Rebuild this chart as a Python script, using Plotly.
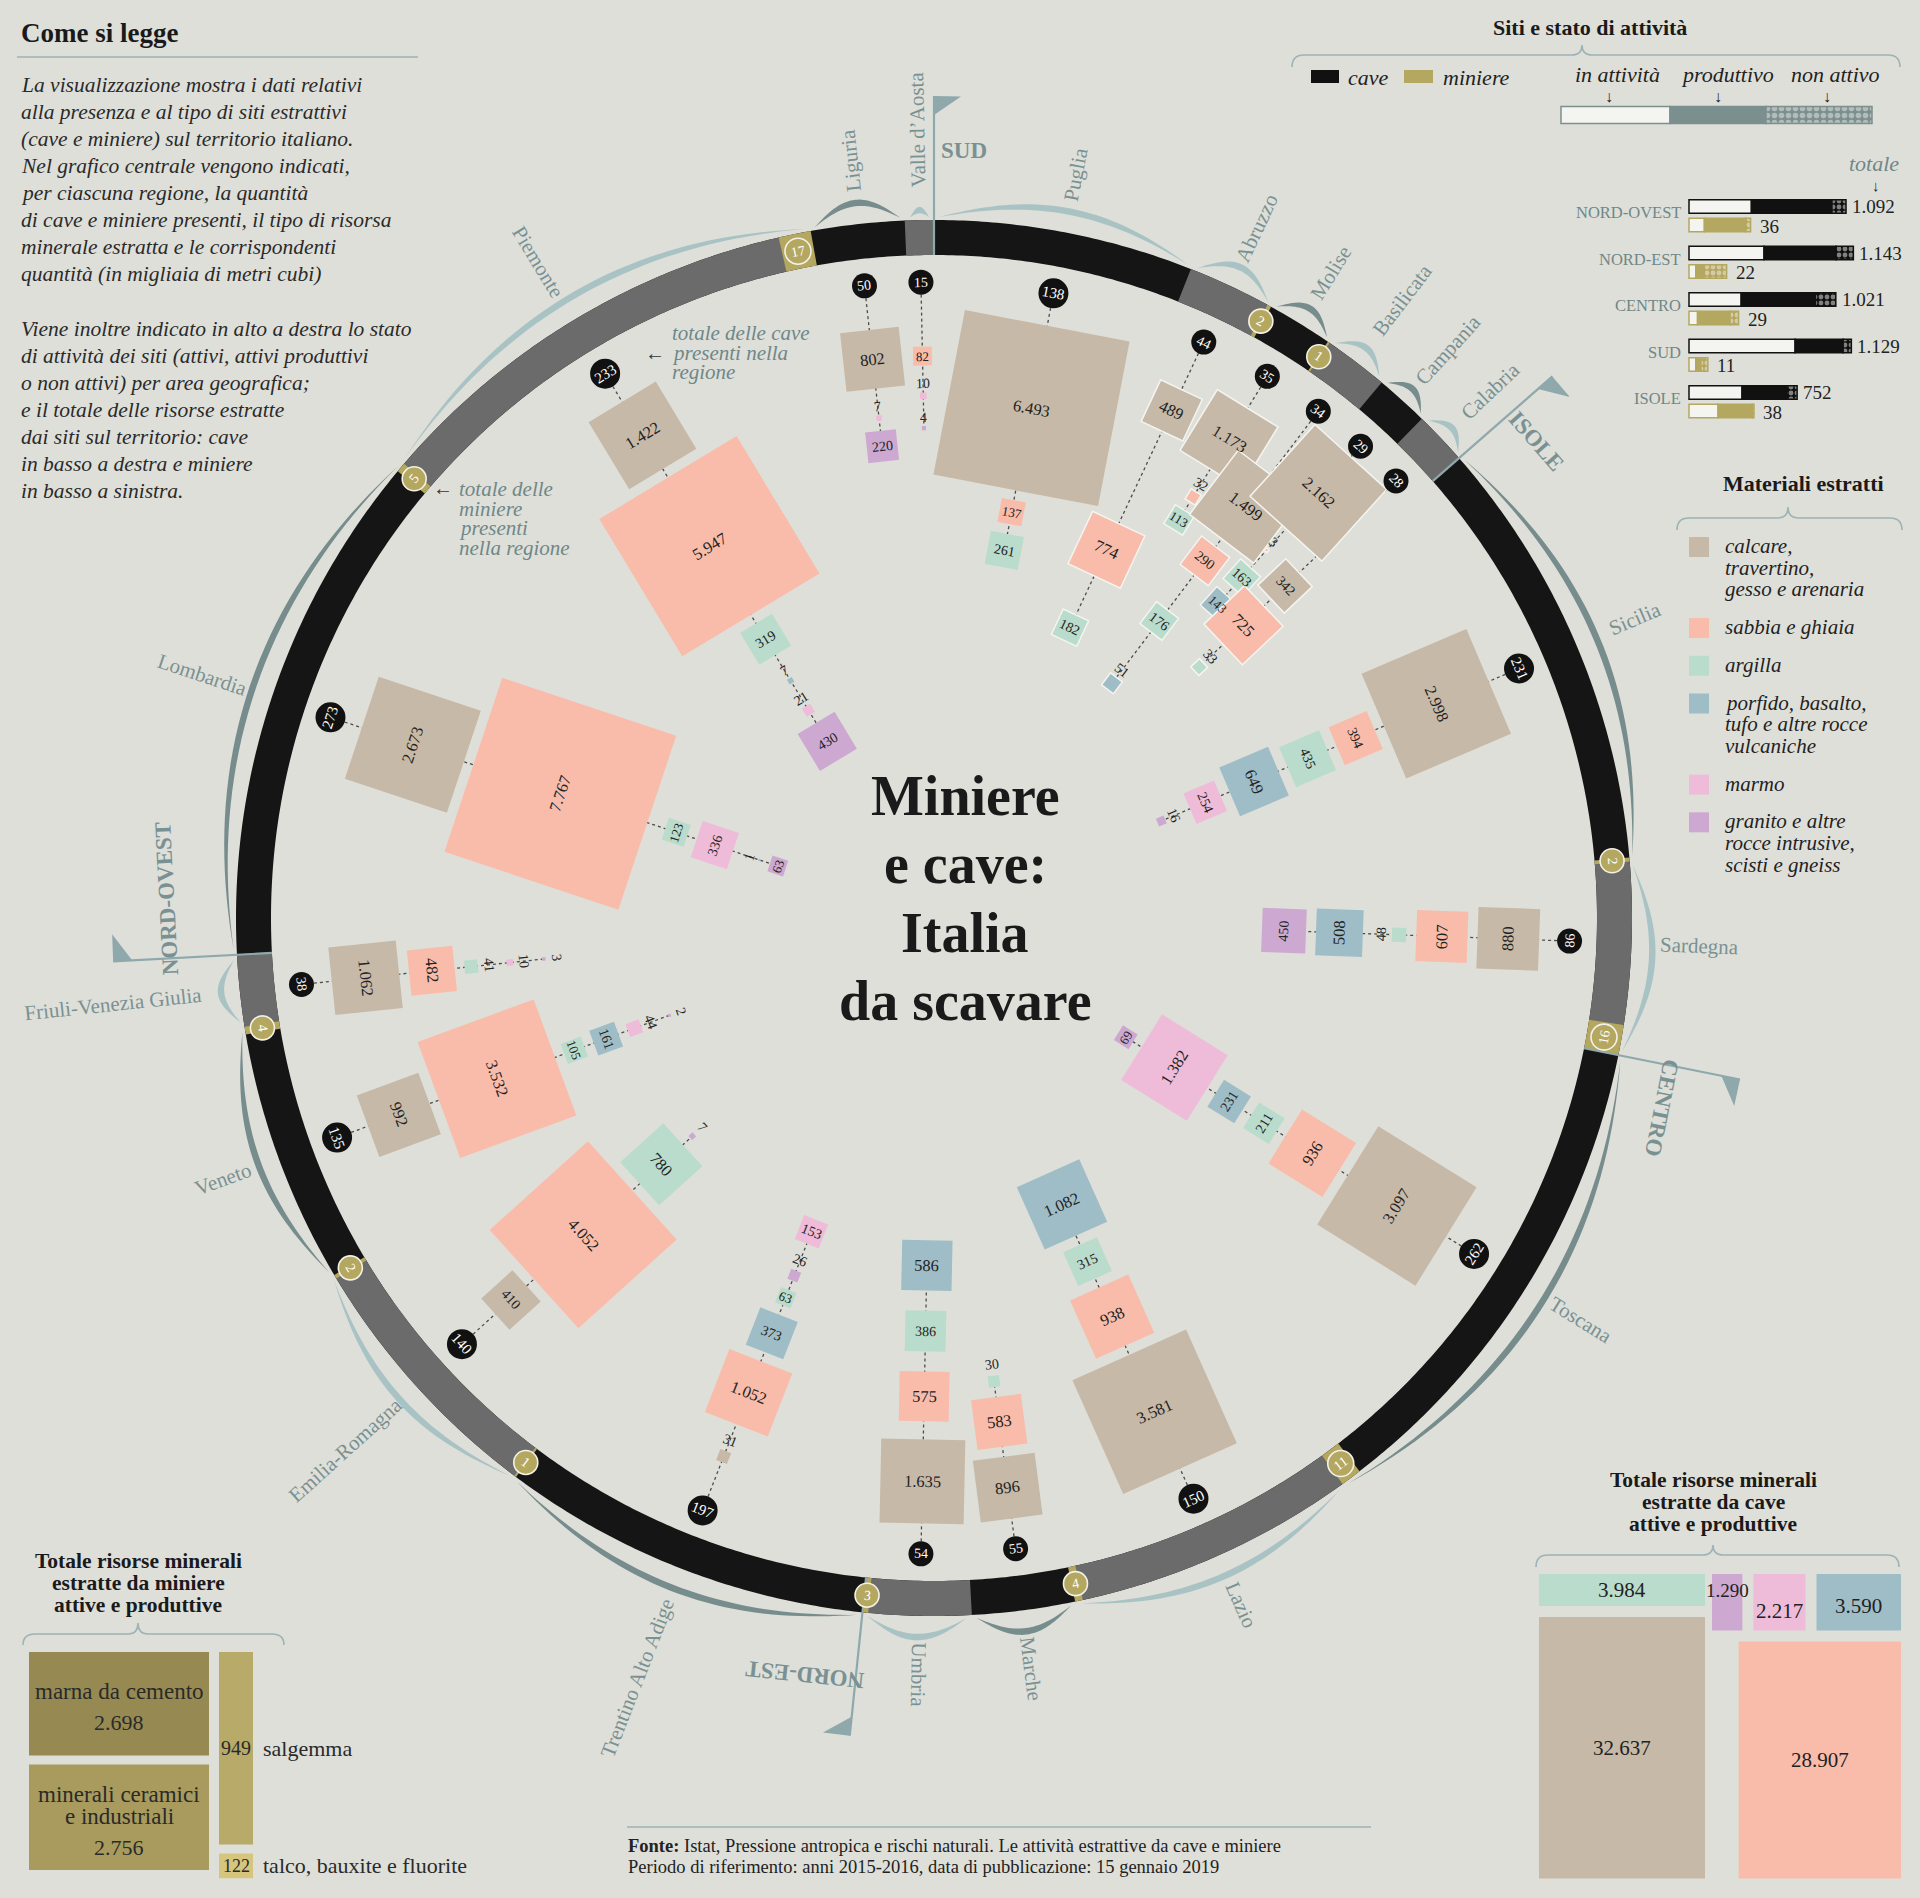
import math
import plotly.graph_objects as go

W, H = 1920, 1898

# ------------------------------------------------------------------ data
regions = ["Puglia", "Abruzzo", "Molise", "Basilicata", "Campania", "Calabria",
           "Sicilia", "Sardegna",
           "Toscana", "Lazio", "Marche", "Umbria",
           "Trentino Alto Adige", "Emilia-Romagna", "Veneto", "Friuli-Venezia Giulia",
           "Lombardia", "Piemonte", "Liguria", "Valle d’Aosta"]
region_area = ["SUD"] * 6 + ["ISOLE"] * 2 + ["CENTRO"] * 4 + ["NORD-EST"] * 4 + ["NORD-OVEST"] * 4
cave_sites = [138, 44, 35, 34, 29, 28, 231, 86, 262, 150, 55, 54, 197, 140, 135, 38, 273, 233, 50, 15]
mine_sites = [0, 2, 1, 0, 0, 0, 2, 16, 11, 4, 0, 3, 1, 2, 4, 0, 5, 17, 0, 0]

calcare = [6493, 489, 1173, 1499, 2162, 342, 2998, 880, 3097, 3581, 896, 1635, 31, 410, 992, 1062, 2673, 1422, 802, 0]
sabbia = [137, 774, 32, 290, 3, 725, 394, 607, 936, 938, 583, 575, 1052, 4052, 3532, 482, 7767, 5947, 0, 82]
argilla = [261, 182, 113, 176, 163, 33, 435, 48, 211, 315, 30, 386, 63, 780, 105, 41, 123, 319, 0, 0]
porfido = [0, 0, 0, 51, 143, 0, 649, 508, 231, 1082, 0, 586, 373, 0, 161, 0, 1, 7, 0, 0]
marmo = [0, 0, 0, 0, 0, 0, 254, 0, 1382, 0, 0, 0, 153, 0, 44, 10, 336, 21, 7, 10]
granito = [0, 0, 0, 0, 0, 0, 16, 450, 69, 0, 0, 0, 26, 7, 2, 3, 63, 430, 220, 4]
material_order = {"Trentino Alto Adige": [0, 1, 3, 2, 5, 4], "Lombardia": [0, 1, 2, 4, 3, 5]}

legend_lines = [["calcare,", "travertino,", "gesso e arenaria"], ["sabbia e ghiaia"], ["argilla"],
                ["porfido, basalto,", "tufo e altre rocce", "vulcaniche"], ["marmo"],
                ["granito e altre", "rocce intrusive,", "scisti e gneiss"]]

areas = ["NORD-OVEST", "NORD-EST", "CENTRO", "SUD", "ISOLE"]
cave_active = [434, 522, 363, 738, 369]
cave_productive = [560, 500, 516, 334, 310]
cave_inactive = [98, 121, 142, 57, 73]
cave_total = [1092, 1143, 1021, 1129, 752]
mine_active = [9, 4, 5, 4, 17]
mine_productive = [24, 5, 19, 3, 20]
mine_inactive = [3, 13, 5, 4, 1]
mine_total = [36, 22, 29, 11, 38]

quarry_totals = [32637, 28907, 3984, 3590, 2217, 1290]   # calcare, sabbia, argilla, porfido, marmo, granito
mine_products = [["marna da cemento"], ["minerali ceramici", "e industriali"], ["salgemma"], ["talco, bauxite e fluorite"]]
mine_product_totals = [2698, 2756, 949, 122]

# ------------------------------------------------------------------ style
FONT = "Liberation Serif"
BG = "#dedfd9"
MAT_COLORS = ["#c7b9a7", "#f9bcaa", "#badccc", "#9ebdc7", "#eebcd9", "#cda9d2"]
RING_DARK, RING_GRAY, GOLD = "#151515", "#6b6b6b", "#b4a760"
TEAL = "#6f8788"
LABEL = "#7a9192"
ARC_LIGHT, ARC_DARK = "#a9c3c5", "#778c8c"
FLAG = "#8ea8ac"
INK = "#222222"
arc_dark_style = [0, 0, 1, 0, 1, 0, 1, 0, 1, 0, 1, 0, 1, 0, 1, 0, 1, 0, 1, 0]

CX, CY = 934.0, 918.0
R_IN, R_OUT = 663.0, 698.0
R_CIRC = 636.0
K = 2.08          # px per sqrt(thousand m3)
CIRC_GAP, GAP, SMALL = 18.0, 10.0, 55
extra = {("Abruzzo", 0): 22, ("Abruzzo", 1): 92, ("Abruzzo", 2): 33, ("Molise", 0): 7,
         ("Basilicata", 0): 49, ("Basilicata", 2): 34, ("Basilicata", 3): 30,
         ("Campania", 0): -16, ("Campania", 2): 12, ("Calabria", 0): 103,
         ("Valle d’Aosta", 1): 34, ("Liguria", 0): 14,
         ("Umbria", 1): 8, ("Umbria", 2): 10, ("Umbria", 3): 10,
         ("Trentino Alto Adige", 0): 19, ("Emilia-Romagna", 0): 12, ("Lombardia", 2): 9}

shapes, annots = [], []


def fmt(v):
    return f"{v:,}".replace(",", ".")


def P(r, a):
    t = math.radians(a)
    return (CX + r * math.sin(t), CY - r * math.cos(t))


def pstr(pts):
    return "M " + " L ".join(f"{x:.2f},{y:.2f}" for x, y in pts)


def poly(pts, fill, lc=None, lw=0):
    shapes.append(dict(type="path", path=pstr(pts) + " Z", fillcolor=fill,
                       line=dict(color=lc or fill, width=lw), layer="above"))


def pline(pts, color, width=1.0, dash="solid"):
    shapes.append(dict(type="path", path=pstr(pts), line=dict(color=color, width=width, dash=dash), layer="above"))


def rect(x0, y0, x1, y1, fill, lc=None, lw=0):
    shapes.append(dict(type="rect", x0=x0, y0=y0, x1=x1, y1=y1, fillcolor=fill,
                       line=dict(color=lc or fill, width=lw), layer="above"))


def circ(x, y, r, fill, lc=None, lw=0):
    shapes.append(dict(type="circle", x0=x - r, x1=x + r, y0=y - r, y1=y + r, fillcolor=fill,
                       line=dict(color=lc or fill, width=lw), layer="above"))


def txt(x, y, s, size=14, color=INK, angle=0, weight="normal", style="normal", xa="center", ya="middle"):
    a = ((angle + 180) % 360) - 180
    annots.append(dict(x=x, y=y, xref="x", yref="y", text=s, showarrow=False, textangle=a,
                       font=dict(family=FONT, size=size, color=color, weight=weight, style=style),
                       xanchor=xa, yanchor=ya, borderpad=0))


def sector(r0, r1, a0, a1, fill):
    n = max(2, int(abs(a1 - a0) / 0.4) + 2)
    outer = [P(r1, a0 + (a1 - a0) * k / (n - 1)) for k in range(n)]
    inner = [P(r0, a1 - (a1 - a0) * k / (n - 1)) for k in range(n)]
    poly(outer + inner, fill)


def brace(x0, x1, xp, yt, ym, yb, color="#9db3b6"):
    d = (f"M {x0},{yb} Q {x0},{ym} {x0+12},{ym} L {xp-10},{ym} Q {xp},{ym} {xp},{yt} "
         f"Q {xp},{ym} {xp+10},{ym} L {x1-12},{ym} Q {x1},{ym} {x1},{yb}")
    shapes.append(dict(type="path", path=d, line=dict(color=color, width=1.6), layer="above"))


def norm_rot(th):
    t = ((th + 180) % 360) - 180
    if -90 < t <= 90:
        return t, True
    return (t - 180 if t > 90 else t + 180), False


# ------------------------------------------------------------------ ring geometry
dpu = 360.0 / (sum(cave_sites) + sum(mine_sites))
seg, cur = [], 0.0
for i in range(len(regions)):
    a0 = cur
    a1 = a0 + cave_sites[i] * dpu
    a2 = a1 + mine_sites[i] * dpu
    seg.append((a0, a1, a2))
    cur = a2

# crescents outside the ring
for i in range(len(regions)):
    a0, a1, a2 = seg[i]
    b0, b1 = a0 + 0.4, a2 - 0.4
    L = math.radians(b1 - b0) * R_OUT
    h1 = min(15.0, 0.2 * L)
    h2 = h1 + 6.5
    n = 40
    out = [P(R_OUT + 3 + h2 * math.sin(math.pi * k / n), b0 + (b1 - b0) * k / n) for k in range(n + 1)]
    inn = [P(R_OUT + 3 + h1 * math.sin(math.pi * k / n), b0 + (b1 - b0) * k / n) for k in range(n, -1, -1)]
    poly(out + inn, ARC_DARK if arc_dark_style[i] else ARC_LIGHT)

# ring band
sector(R_IN, R_OUT, 0, 360, RING_DARK)
for i in range(len(regions)):
    a0, a1, a2 = seg[i]
    if i % 2 == 1:
        sector(R_IN, R_OUT, a0 - 0.05, a1 + 0.05, RING_GRAY)
for i in range(len(regions)):
    a0, a1, a2 = seg[i]
    if mine_sites[i] > 0:
        sector(R_IN, R_OUT, a1, a2 + 0.02, GOLD)

# flags
for ar in ["SUD", "ISOLE", "CENTRO", "NORD-EST", "NORD-OVEST"]:
    idx = region_area.index(ar)
    th = seg[idx][0]
    pline([P(R_IN, th), P(822, th)], FLAG, 2.2)
    poly([P(822, th), P(822, th + math.degrees(27 / 822)), P(803, th)], FLAG)
    w = 0.36 * 23 * len(ar)
    off = 18 + w / 2
    rt = 768 if ar != "CENTRO" else 752
    tx, ty = P(rt, th + math.degrees(off / rt))
    txt(tx, ty, ar, size=23, color="#7a9193", angle=th, weight="bold")

# gold mine markers
for i in range(len(regions)):
    a0, a1, a2 = seg[i]
    if mine_sites[i] > 0:
        am = (a1 + a2) / 2
        x, y = P((R_IN + R_OUT) / 2, am)
        rr = 13 if mine_sites[i] >= 10 else 12
        circ(x, y, rr, GOLD, "#f3f1e6", 1.6)
        rot, _ = norm_rot(am)
        txt(x, y, str(mine_sites[i]), size=14, color="white", angle=rot)

# region labels
for i, name in enumerate(regions):
    a0, a1, a2 = seg[i]
    th = (a0 + a1) / 2
    if th < 185:
        rot = th - 90
    elif th < 345:
        rot = th - 270
    else:
        rot = th - 450
    w = 0.43 * 21 * len(name)
    x, y = P(730 + w / 2, th)
    txt(x, y, name, size=21, color=LABEL, angle=rot)

# clusters of squares
values = [calcare, sabbia, argilla, porfido, marmo, granito]
layout_items = []
for i, name in enumerate(regions):
    a0, a1, a2 = seg[i]
    th = (a0 + a1) / 2
    rot, up_out = norm_rot(th)
    rc = 15.0 if cave_sites[i] >= 100 else 12.5
    r = R_CIRC - rc - CIRC_GAP
    items = []
    for m in material_order.get(name, range(6)):
        v = values[m][i]
        if v <= 0:
            continue
        r -= extra.get((name, m), 0)
        s = K * math.sqrt(v)
        lab = None
        if v < SMALL and up_out:
            lab = r - 8
            r -= 17
            rs = r - s / 2
            r -= s
        elif v < SMALL:
            rs = r - s / 2
            r -= s + 3
            lab = r - 8
            r -= 16
        else:
            rs = r - s / 2
            r -= s
        r -= GAP
        items.append((m, v, s, rs, lab))
    layout_items.append((th, rot, rc, items))
    end_r = min(it[3] for it in items)
    pline([P(R_CIRC - rc, th), P(end_r, th)], "#4d4d4d", 1.3, "dot")

for i, name in enumerate(regions):
    th, rot, rc, items = layout_items[i]
    cx, cy = P(R_CIRC, th)
    circ(cx, cy, rc, "#111111")
    txt(cx, cy, str(cave_sites[i]), size=15 if rc >= 15 else 14, color="white", angle=rot)
    ux, uy = math.sin(math.radians(th)), -math.cos(math.radians(th))
    tx_, ty_ = math.cos(math.radians(th)), math.sin(math.radians(th))
    white_border = region_area[i] == "SUD" and name != "Puglia"
    for (m, v, s, rs, lab) in items:
        x, y = P(rs, th)
        h = s / 2
        pts = [(x + h * (ux + tx_), y + h * (uy + ty_)), (x + h * (ux - tx_), y + h * (uy - ty_)),
               (x + h * (-ux - tx_), y + h * (-uy - ty_)), (x + h * (-ux + tx_), y + h * (-uy + ty_))]
        if white_border:
            poly(pts, MAT_COLORS[m], "#f4f4f0", 1.5)
        else:
            poly(pts, MAT_COLORS[m])
        if lab is None:
            fs = 16.5 if s >= 45 else (14 if s >= 25 else 13)
            txt(x, y, fmt(v), size=fs, color=INK, angle=rot)
        else:
            lx, ly = P(lab, th)
            txt(lx, ly, fmt(v), size=14, color=INK, angle=rot)

# central title
for k, line_ in enumerate(["Miniere", "e cave:", "Italia", "da scavare"]):
    txt(965, 796 + 68.3 * k, line_, size=56, color="#1a1a1a", weight="bold")

# ------------------------------------------------------------------ "Come si legge"
txt(20, 33, "Come si legge", size=27, color="#1a1a1a", weight="bold", xa="left")
pline([(17, 57), (418, 57)], "#9db3b6", 1.6)
para1 = ["La visualizzazione mostra i dati relativi", "alla presenza e al tipo di siti estrattivi",
         "(cave e miniere) sul territorio italiano.", "Nel grafico centrale vengono indicati,",
         "per ciascuna regione, la quantità", "di cave e miniere presenti, il tipo di risorsa",
         "minerale estratta e le corrispondenti", "quantità (in migliaia di metri cubi)"]
para2 = ["Viene inoltre indicato in alto a destra lo stato", "di attività dei siti (attivi, attivi produttivi",
         "o non attivi) per area geografica;", "e il totale delle risorse estratte",
         "dai siti sul territorio: cave", "in basso a destra e miniere", "in basso a sinistra."]
for k, s in enumerate(para1):
    txt(20, 85 + 27 * k, s, size=21.5, color="#2a2a2a", style="italic", xa="left")
for k, s in enumerate(para2):
    txt(20, 328.5 + 27 * k, s, size=21.5, color="#2a2a2a", style="italic", xa="left")

# callouts near the ring
txt(655, 353, "←", size=20, color="#333333")
for k, s in enumerate(["totale delle cave", "presenti nella", "regione"]):
    txt(671, 333 + 19.5 * k, s, size=21, color=TEAL, style="italic", xa="left")
txt(443, 488, "←", size=20, color="#333333")
for k, s in enumerate(["totale delle", "miniere", "presenti", "nella regione"]):
    txt(458, 489 + 19.5 * k, s, size=21, color=TEAL, style="italic", xa="left")

# ------------------------------------------------------------------ activity panel
txt(1590, 27, "Siti e stato di attività", size=22, color="#1a1a1a", weight="bold")
brace(1292, 1900, 1582, 45, 55, 67)
rect(1311, 70, 1339, 83, "#111111")
txt(1347, 77, "cave", size=22, color="#222", style="italic", xa="left")
rect(1404, 70, 1433, 83, GOLD)
txt(1442, 77, "miniere", size=22, color="#222", style="italic", xa="left")
for x, s in [(1617, "in attività"), (1727, "produttivo"), (1835, "non attivo")]:
    txt(x, 74, s, size=22, color="#222", style="italic")
for x in [1609, 1718, 1827]:
    txt(x, 96, "↓", size=16, color="#222")

fig = go.Figure()


def hbar(y, base, length, color, lc, width, pattern=None):
    mk = dict(color=color, line=dict(color=lc, width=1.5))
    if pattern:
        mk["pattern"] = pattern
    fig.add_trace(go.Bar(orientation="h", y=y, x=length, base=base, width=width, marker=mk,
                         hoverinfo="skip", showlegend=False))


sample_parts = [109, 96, 106]
SAMPLE_C = "#7b908e"
hbar([115], [1561], [sample_parts[0]], "#f4f4f0", SAMPLE_C, 17)
hbar([115], [1561 + sample_parts[0]], [sample_parts[1]], SAMPLE_C, SAMPLE_C, 17)
hbar([115], [1561 + sample_parts[0] + sample_parts[1]], [sample_parts[2]], SAMPLE_C, SAMPLE_C, 17,
     dict(shape=".", bgcolor=SAMPLE_C, fgcolor="#e9e9e3", size=7, solidity=0.5))

BX = 1689.0
CS = 0.1438   # px per quarry
MS = 1.71     # px per mine
cave_y = [206.5 + 46.5 * k for k in range(5)]
mine_y = [y + 18.5 for y in cave_y]
dots_c = dict(shape=".", bgcolor="#111111", fgcolor="#f2f2ee", size=6, solidity=0.5)
dots_m = dict(shape=".", bgcolor=GOLD, fgcolor="#f2f2ee", size=6, solidity=0.5)
c0 = [BX] * 5
c1 = [BX + a * CS for a in cave_active]
c2 = [BX + (a + p) * CS for a, p in zip(cave_active, cave_productive)]
hbar(cave_y, c0, [v * CS for v in cave_active], "#f4f4f0", "#111111", 13.5)
hbar(cave_y, c1, [v * CS for v in cave_productive], "#111111", "#111111", 13.5)
hbar(cave_y, c2, [v * CS for v in cave_inactive], "#111111", "#111111", 13.5, dots_c)
m1 = [BX + a * MS for a in mine_active]
m2 = [BX + (a + p) * MS for a, p in zip(mine_active, mine_productive)]
hbar(mine_y, c0, [v * MS for v in mine_active], "#f4f4f0", GOLD, 13.5)
hbar(mine_y, m1, [v * MS for v in mine_productive], GOLD, GOLD, 13.5)
hbar(mine_y, m2, [v * MS for v in mine_inactive], GOLD, GOLD, 13.5, dots_m)
for k, ar in enumerate(areas):
    txt(1682, cave_y[k] + 6, ar, size=16.5, color=TEAL, xa="right")
    txt(BX + cave_total[k] * CS + 5, cave_y[k], fmt(cave_total[k]), size=19, color="#222", xa="left")
    txt(BX + mine_total[k] * MS + 8, mine_y[k] + 1, fmt(mine_total[k]), size=19, color="#222", xa="left")
txt(1874, 163, "totale", size=22, color=TEAL, style="italic")
txt(1876, 186, "↓", size=15, color="#222")

# ------------------------------------------------------------------ materials legend
txt(1803, 483, "Materiali estratti", size=22, color="#1a1a1a", weight="bold")
brace(1677, 1902, 1788, 507, 518, 530)
yy = 537.0
for m, lines in enumerate(legend_lines):
    rect(1689, yy, 1709, yy + 20, MAT_COLORS[m])
    for k, s in enumerate(lines):
        txt(1724, yy + 9 + 21.7 * k, s, size=21, color="#222", style="italic", xa="left")
    yy += 21.7 * len(lines) + 16

# ------------------------------------------------------------------ quarries totals (bottom right)
for k, s in enumerate(["Totale risorse minerali", "estratte da cave", "attive e produttive"]):
    txt(1713, 1480 + 22 * k, s, size=21.5, color="#1a1a1a", weight="bold")
brace(1536, 1899, 1713, 1545, 1555, 1567)
A = 1.33
col1_x, col1_w, top = 1539.0, 166.0, 1574.0
h_arg = quarry_totals[2] * A / col1_w
h_cal = quarry_totals[0] * A / col1_w
rect(col1_x, top, col1_x + col1_w, top + h_arg, MAT_COLORS[2])
txt(col1_x + col1_w / 2, top + h_arg / 2, fmt(quarry_totals[2]), size=21)
y_cal = top + h_arg + 11
rect(col1_x, y_cal, col1_x + col1_w, y_cal + h_cal, MAT_COLORS[0])
txt(col1_x + col1_w / 2, y_cal + h_cal / 2, fmt(quarry_totals[0]), size=21)
bottom = y_cal + h_cal
col2_x0, col2_x1 = 1712.0, 1901.0
small = [5, 4, 3]
h_top = sum(quarry_totals[m] for m in small) * A / (col2_x1 - col2_x0 - 22)
x = col2_x0
label_dy = {5: -h_top / 2 + 16, 4: 9, 3: 4}
for m in small:
    wdt = quarry_totals[m] * A / h_top
    rect(x, top, x + wdt, top + h_top, MAT_COLORS[m])
    txt(x + wdt / 2, top + h_top / 2 + label_dy[m], fmt(quarry_totals[m]), size=21 if m != 5 else 19)
    x += wdt + 11
y_sab = top + h_top + 11
h_sab = bottom - y_sab
w_sab = quarry_totals[1] * A / h_sab
rect(col2_x1 - w_sab, y_sab, col2_x1, bottom, MAT_COLORS[1])
txt(col2_x1 - w_sab / 2, y_sab + h_sab / 2, fmt(quarry_totals[1]), size=21)

# ------------------------------------------------------------------ mines totals (bottom left)
for k, s in enumerate(["Totale risorse minerali", "estratte da miniere", "attive e produttive"]):
    txt(138, 1561 + 22 * k, s, size=21.5, color="#1a1a1a", weight="bold")
brace(23, 284, 138, 1623, 1634, 1645)
MA = 6.9
MINE_COLORS = ["#968a52", "#a89b5d", "#b8aa68", "#d6c57c"]
mx0, mw, mtop = 29.0, 180.0, 1652.0
y = mtop
for k in [0, 1]:
    hh = mine_product_totals[k] * MA / mw
    rect(mx0, y, mx0 + mw, y + hh, MINE_COLORS[k])
    lines = mine_products[k]
    n = len(lines)
    ys = y + hh / 2 - 12 - 11 * (n - 1)
    for j, s in enumerate(lines):
        txt(mx0 + mw / 2, ys + 22 * j, s, size=23, color="#2a2a2a")
    txt(mx0 + mw / 2, ys + 22 * (n - 1) + 31, fmt(mine_product_totals[k]), size=22, color="#2a2a2a")
    y += hh + 9
sx0, sw = 219.0, 34.0
y = mtop
for k in [2, 3]:
    hh = mine_product_totals[k] * MA / sw
    rect(sx0, y, sx0 + sw, y + hh, MINE_COLORS[k])
    txt(sx0 + sw / 2, y + hh / 2, fmt(mine_product_totals[k]), size=20 if k == 2 else 18, color="#2a2a2a")
    txt(sx0 + sw + 9, y + hh / 2, mine_products[k][0], size=22, color="#2a2a2a", xa="left")
    y += hh + 9

# ------------------------------------------------------------------ footer
pline([(627, 1827), (1371, 1827)], "#9db3b6", 1.4)
txt(627, 1846, "<b>Fonte:</b> Istat, Pressione antropica e rischi naturali. Le attività estrattive da cave e miniere",
    size=18.5, color="#222", xa="left")
txt(627, 1867, "Periodo di riferimento: anni 2015-2016, data di pubblicazione: 15 gennaio 2019",
    size=18.5, color="#222", xa="left")

fig.update_layout(
    width=W, height=H, margin=dict(l=0, r=0, t=0, b=0),
    paper_bgcolor=BG, plot_bgcolor=BG, barmode="overlay", showlegend=False,
    xaxis=dict(range=[0, W], visible=False, fixedrange=True),
    yaxis=dict(range=[H, 0], visible=False, fixedrange=True),
    shapes=shapes, annotations=annots,
)
fig.write_html("out.html", include_plotlyjs=True, full_html=True,
               config={"displayModeBar": False, "staticPlot": True},
               post_script="document.body.style.margin='0';document.body.style.overflow='hidden';")
